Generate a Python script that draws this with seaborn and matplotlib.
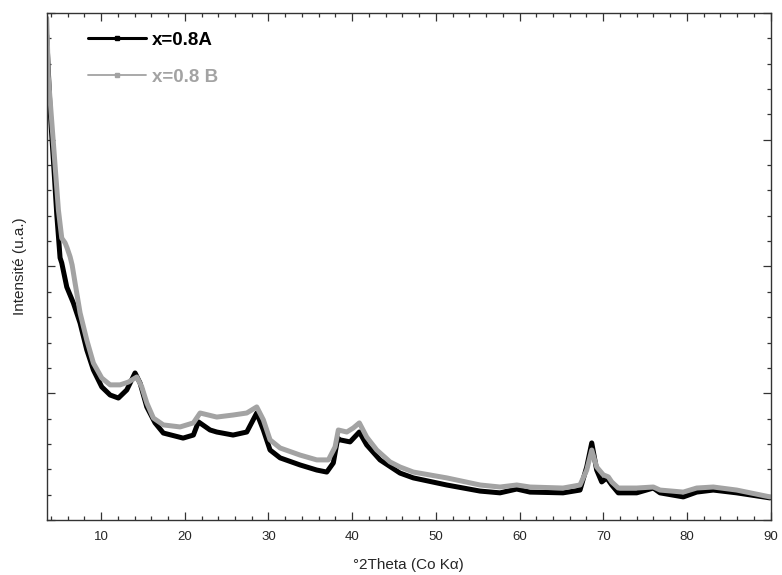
import numpy as np
import pandas as pd
import matplotlib
matplotlib.use("Agg")
from matplotlib import pyplot as plt
from matplotlib.lines import Line2D
from matplotlib.ticker import MultipleLocator
import seaborn as sbn

# diffractogram (degrees 2theta, arbitrary intensity)
theta_A = [3.5, 3.91, 4.30, 4.71, 5.10, 5.30, 5.90, 6.69, 7.49, 8.29, 9.08, 10.08, 11.08,
           12.07, 13.07, 14.06, 14.66, 15.46, 16.45, 17.44, 19.80, 21.03, 21.63, 23.02,
           23.82, 25.77, 27.41, 28.60, 29.39, 30.19, 31.39, 33.78, 35.77, 36.97, 37.75,
           38.28, 38.55, 39.75, 40.86, 41.74, 43.33, 45.72, 47.31, 51.30, 55.28, 57.67,
           59.67, 61.25, 65.20, 67.23, 68.03, 68.63, 69.22, 69.82, 70.42, 71.02, 71.80,
           74.00, 75.99, 76.79, 79.57, 81.17, 83.15, 85.95, 89.93]
int_A = [1913, 1617, 1420, 1203, 1034, 1014, 919, 856, 777, 671, 592, 525, 493,
         481, 513, 580, 540, 446, 383, 343, 323, 335, 387, 355,
         347, 335, 347, 422, 355, 276, 245, 217, 197, 189, 225,
         323, 316, 308, 347, 296, 237, 185, 166, 138, 114, 107,
         122, 110, 107, 118, 209, 304, 197, 150, 166, 138, 107,
         107, 126, 107, 91, 110, 118, 107, 87]

theta_B = [3.5, 3.70, 4.30, 4.90, 5.30, 5.70, 5.94, 6.30, 6.54, 6.89, 7.49, 8.29, 9.08,
           10.08, 11.08, 12.27, 13.26, 14.27, 14.86, 15.46, 16.25, 17.44, 19.44, 21.03,
           21.83, 23.82, 25.77, 27.41, 28.60, 29.39, 30.19, 31.39, 33.78, 35.77, 37.16,
           37.96, 38.35, 39.36, 40.14, 40.86, 41.74, 42.94, 44.53, 45.72, 47.31, 51.30,
           55.28, 57.67, 59.67, 61.25, 65.20, 67.23, 68.03, 68.63, 69.22, 70.01, 70.61,
           71.02, 71.80, 74.00, 75.99, 76.79, 79.57, 81.17, 83.15, 85.95, 89.93]
int_B = [1980, 1748, 1487, 1223, 1112, 1093, 1073, 1038, 1006, 935, 817, 710, 619,
         560, 533, 533, 544, 564, 525, 462, 402, 375, 367, 383,
         422, 406, 414, 422, 446, 395, 316, 284, 256, 237, 237,
         288, 355, 347, 363, 383, 327, 276, 229, 209, 189, 166,
         138, 130, 138, 130, 126, 138, 197, 276, 209, 178, 170,
         150, 126, 126, 130, 118, 110, 126, 130, 118, 91]

labels = ["x=0.8A", "x=0.8 B"]
colors = ["#000000", "#a3a3a3"]

sbn.set_style("ticks")
plt.rcParams['font.family'] = ['Liberation Sans', 'DejaVu Sans']

df = pd.concat([
    pd.DataFrame({"theta": theta_A, "I": int_A, "sample": labels[0]}),
    pd.DataFrame({"theta": theta_B, "I": int_B, "sample": labels[1]}),
], ignore_index=True)

fig = plt.figure(figsize=(7.82, 5.75), dpi=100)
ax = fig.add_axes([0.0597, 0.0957, 0.9257, 0.8817])

sbn.lineplot(data=df, x="theta", y="I", hue="sample", palette=colors,
             estimator=None, lw=3.6, legend=False, ax=ax)
for ln in ax.get_lines():
    ln.set_solid_joinstyle('round')

ax.set_xlim(3.5, 90)
ax.set_ylim(0, 2000)
ax.xaxis.set_major_locator(MultipleLocator(10))
ax.xaxis.set_minor_locator(MultipleLocator(2))
ax.yaxis.set_major_locator(MultipleLocator(500))
ax.yaxis.set_minor_locator(MultipleLocator(100))
ax.tick_params(which='both', direction='in', top=True, right=True,
               labelleft=False, color='#333333', width=0.9)
ax.tick_params(which='major', length=6, labelsize=9.5, pad=8)
ax.tick_params(which='minor', length=3)
for s in ax.spines.values():
    s.set_linewidth(1.0)
    s.set_color('#333333')

ax.set_xlabel("°2Theta (Co K\u03b1)", fontsize=11, labelpad=11)
ax.set_ylabel("Intensité (u.a.)", fontsize=11, labelpad=14)

handles = [Line2D([0], [0], color=colors[0], lw=2.2, marker='s', ms=2.5),
           Line2D([0], [0], color=colors[1], lw=1.3, marker='s', ms=3)]
leg = ax.legend(handles, labels, loc='upper left', bbox_to_anchor=(0.057, 0.963),
                frameon=False, borderaxespad=0, borderpad=0, handlelength=3.1,
                handletextpad=0.3, labelspacing=1.05, numpoints=1,
                prop={'weight': 'bold', 'size': 13.5}, labelcolor='linecolor')

plt.savefig("out.png", dpi=100)
